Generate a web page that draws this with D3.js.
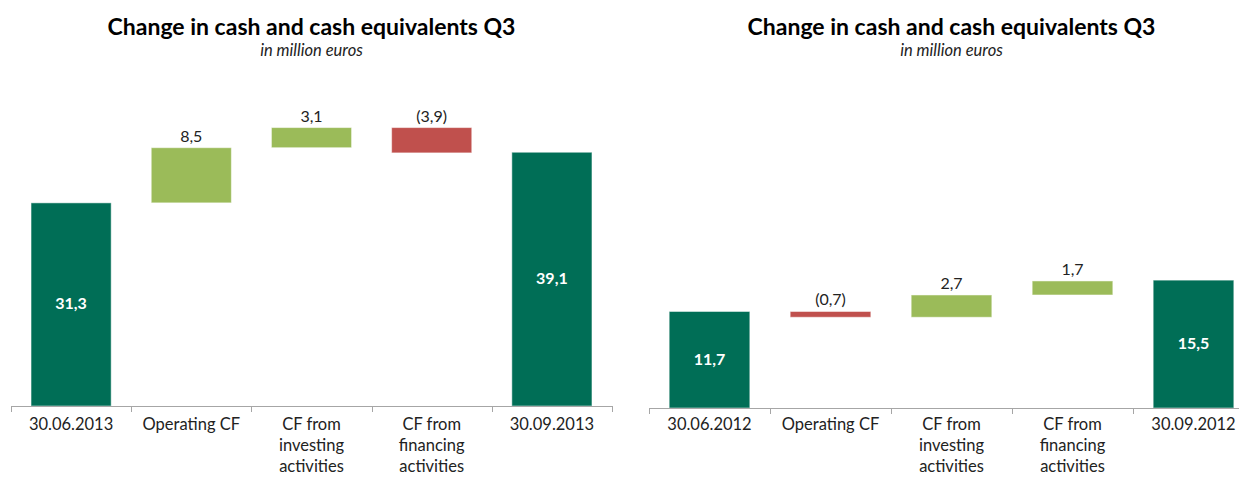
<!DOCTYPE html>
<html>
<head>
<meta charset="utf-8">
<script src="https://cdn.jsdelivr.net/npm/d3@7"></script>
<style>
  body { margin: 0; background: #fff; }
  svg { display: block; font-family: Lato, "Open Sans", sans-serif; }
</style>
</head>
<body>
<script>
// chart data
var categories2013 = [["30.06.2013"], ["Operating CF"], ["CF from", "investing", "activities"], ["CF from", "financing", "activities"], ["30.09.2013"]];
var values2013 = [31.3, 8.5, 3.1, -3.9, 39.1];
var categories2012 = [["30.06.2012"], ["Operating CF"], ["CF from", "investing", "activities"], ["CF from", "financing", "activities"], ["30.09.2012"]];
var values2012 = [11.7, -0.7, 2.7, 1.7, 15.5];
var isTotal = [true, false, false, false, true];

var titleText = "Change in cash and cash equivalents Q3";
var subtitleText = "in million euros";

var colors = { total: "#006E56", up: "#9BBB59", down: "#C0504D", axis: "#A6A6A6" };

var svg = d3.select("body").append("svg")
  .attr("width", 1239)
  .attr("height", 477);

var fmt = function(v) {
  var s = Math.abs(v).toFixed(1).replace(".", ",");
  return v < 0 ? "(" + s + ")" : s;
};

var drawWaterfall = function(opts) {
  var cats = opts.categories, vals = opts.values;

  var x = d3.scaleBand()
    .domain(d3.range(cats.length))
    .range([opts.left, opts.right])
    .paddingInner(1 / 3)
    .paddingOuter(1 / 6);

  var y = d3.scaleLinear()
    .domain(opts.yDomain)
    .range([opts.bottom, opts.top]);

  // running totals for the floating bars
  var rows = [];
  var running = 0;
  vals.forEach(function(v, i) {
    if (isTotal[i]) {
      rows.push({ i: i, v: v, y0: 0, y1: v, total: true });
      running = v;
    } else {
      rows.push({ i: i, v: v, y0: running, y1: running + v, total: false });
      running += v;
    }
  });

  var g = svg.append("g");
  var cx = (opts.left + opts.right) / 2;

  g.append("text")
    .attr("x", cx).attr("y", 35)
    .attr("text-anchor", "middle")
    .style("font-size", "23px").style("font-weight", "bold")
    .attr("fill", "#000")
    .text(titleText);

  g.append("text")
    .attr("x", cx).attr("y", 56)
    .attr("text-anchor", "middle")
    .style("font-size", "16.5px").style("font-style", "italic")
    .attr("fill", "#222")
    .text(subtitleText);

  g.selectAll("rect.bar")
    .data(rows)
    .enter()
    .append("rect")
    .attr("class", "bar")
    .attr("x", function(d) { return x(d.i); })
    .attr("width", x.bandwidth())
    .attr("y", function(d) { return y(Math.max(d.y0, d.y1)); })
    .attr("height", function(d) { return Math.abs(y(d.y0) - y(d.y1)); })
    .attr("fill", function(d) { return d.total ? colors.total : (d.v < 0 ? colors.down : colors.up); })
    .attr("stroke", "rgba(255,255,255,0.5)")
    .attr("stroke-width", 1);

  // value labels
  g.selectAll("text.val")
    .data(rows)
    .enter()
    .append("text")
    .attr("class", "val")
    .attr("x", function(d) { return x(d.i) + x.bandwidth() / 2; })
    .attr("y", function(d) {
      if (d.total) return (y(0) + y(d.y1)) / 2 + 5;
      return y(Math.max(d.y0, d.y1)) - 6;
    })
    .attr("text-anchor", "middle")
    .style("font-size", "16px")
    .style("font-weight", function(d) { return d.total ? "bold" : "normal"; })
    .attr("fill", function(d) { return d.total ? "#fff" : "#222"; })
    .text(function(d) { return fmt(d.v); });

  // axis with ticks on band boundaries
  var x0 = x.range()[0], step = x.step();
  g.append("line")
    .attr("x1", x0).attr("x2", opts.right)
    .attr("y1", y(0) + 0.5).attr("y2", y(0) + 0.5)
    .attr("stroke", colors.axis);

  g.selectAll("line.tick")
    .data(d3.range(cats.length + 1))
    .enter()
    .append("line")
    .attr("class", "tick")
    .attr("x1", function(k) { return Math.round(x0 + k * step) + 0.5; })
    .attr("x2", function(k) { return Math.round(x0 + k * step) + 0.5; })
    .attr("y1", y(0)).attr("y2", y(0) + 6)
    .attr("stroke", colors.axis);

  var lab = g.selectAll("text.cat")
    .data(cats)
    .enter()
    .append("text")
    .attr("class", "cat")
    .attr("x", function(d, i) { return x(i) + x.bandwidth() / 2; })
    .attr("y", opts.labelY)
    .attr("text-anchor", "middle")
    .style("font-size", "16.5px")
    .attr("fill", "#222");

  lab.selectAll("tspan")
    .data(function(d) { return d; })
    .enter()
    .append("tspan")
    .attr("x", function() { return d3.select(this.parentNode).attr("x"); })
    .attr("dy", function(d, k) { return k === 0 ? 0 : 21; })
    .text(function(d) { return d; });
};

drawWaterfall({
  categories: categories2013, values: values2013,
  left: 11, right: 612, top: 81.5, bottom: 406, yDomain: [0, 50], labelY: 430
});

drawWaterfall({
  categories: categories2012, values: values2012,
  left: 649, right: 1254, top: 78, bottom: 408, yDomain: [0, 40], labelY: 430
});
</script>
</body>
</html>
